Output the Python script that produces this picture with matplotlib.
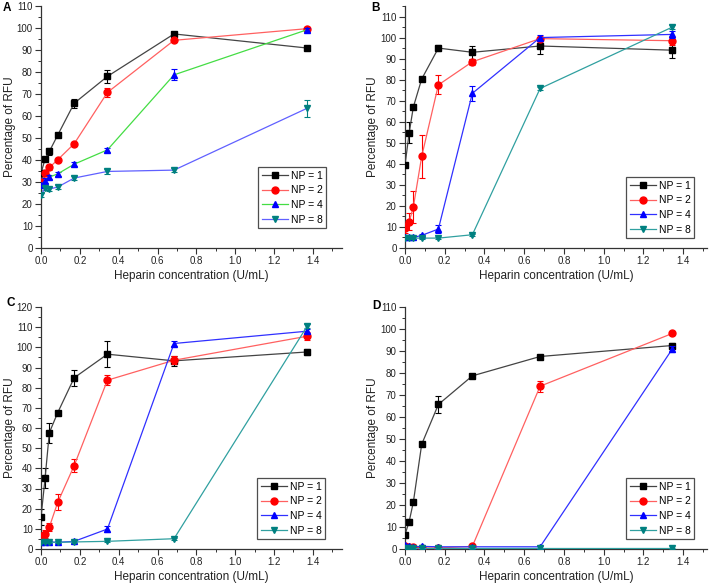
import matplotlib
matplotlib.use("Agg")
import matplotlib.pyplot as plt
from matplotlib.ticker import MultipleLocator

plt.rcParams['font.family'] = ['Liberation Sans', 'DejaVu Sans']

# ---------------- data ----------------
labels = ["NP = 1", "NP = 2", "NP = 4", "NP = 8"]

x_AC = [0, 0.021, 0.043, 0.086, 0.171, 0.342, 0.685, 1.37]
x_BD = [0, 0.021, 0.042, 0.084, 0.168, 0.339, 0.68, 1.346]

# Panel A
A_np1 = [34, 40.4, 43.9, 51.3, 65.8, 78, 97.3, 90.9]
A_np2 = [29.8, 34, 36.6, 40.1, 47.4, 70.7, 94.4, 99.7]
A_np4 = [28.5, 30.6, 32.2, 33.7, 38.1, 44.6, 78.7, 99.2]
A_np8 = [24.2, 27.2, 26.8, 27.7, 31.8, 34.8, 35.4, 63.5]
A_err1 = [1.5, 1, 1.5, 1, 2, 3, 0.8, 0.8]
A_err2 = [1, 1, 1, 1, 1, 2, 0.8, 0.8]
A_err4 = [1, 1, 1, 1, 1, 1, 2.5, 1]
A_err8 = [1, 1, 1, 1, 1, 1, 0.8, 4]

# Panel B
B_np1 = [39.4, 54.7, 67, 80.3, 95, 93, 96, 94]
B_np2 = [9.5, 12.5, 19.5, 43.5, 77.5, 88.5, 99.5, 98.5]
B_np4 = [5, 5, 5, 6, 9, 73.5, 100, 101.5]
B_np8 = [4.7, 4.7, 4.7, 4.7, 4.7, 6.3, 75.8, 105]
B_err1 = [1, 5, 1, 1, 1.5, 3, 4, 3.5]
B_err2 = [2.5, 4, 7.5, 10, 4.5, 1.5, 1, 2]
B_err4 = [0.5, 0.5, 0.5, 0.5, 2, 3.5, 1, 1.5]
B_err8 = [0.5, 0.5, 0.5, 0.5, 0.5, 0.5, 0.5, 1]

# Panel C
C_np1 = [15.7, 35.1, 57.7, 67.6, 84.9, 96.6, 93.3, 97.7]
C_np2 = [6.6, 7.4, 10.9, 23.1, 41.4, 83.7, 93.6, 105.5]
C_np4 = [3.5, 3.5, 3.5, 3.3, 3.8, 9.9, 101.9, 108]
C_np8 = [3.3, 3.3, 3.3, 3.3, 3.5, 3.8, 5.1, 110.4]
C_err1 = [4, 5, 5, 1, 4, 6.5, 2.5, 1.5]
C_err2 = [1, 2, 2, 4, 3, 2.5, 2, 2]
C_err4 = [0.5, 0.5, 0.5, 0.5, 0.5, 1.5, 1, 1]
C_err8 = [0.5, 0.5, 0.5, 0.5, 0.5, 0.5, 0.5, 1]

# Panel D
D_np1 = [6.5, 12.5, 21.3, 47.6, 65.7, 78.7, 87.5, 92.5]
D_np2 = [1.5, 1, 1, 0.5, 0.5, 1.2, 74, 98]
D_np4 = [2, 1.5, 1, 1.2, 1, 1, 1, 91]
D_np8 = [0.3, 0.3, 0.3, 0.3, 0.3, 0.3, 0.3, 0.3]
D_err1 = [1, 1, 1, 1, 4, 1, 0.8, 1]
D_err2 = [0.5, 0.5, 0.5, 0.5, 0.5, 0.5, 2.5, 0.8]
D_err4 = [0.5, 0.5, 0.5, 0.5, 0.5, 0.5, 0.5, 1.5]
D_err8 = [0.2, 0.2, 0.2, 0.2, 0.2, 0.2, 0.2, 0.2]

# ---------------- styles ----------------
markers = ['s', 'o', '^', 'v']
mcolors = ['#000000', '#ff0000', '#0000ff', '#008080']
lines_A = ['#444444', '#ff6060', '#44dd44', '#6060ff']
lines_BCD = ['#444444', '#ff6060', '#3030ff', '#30a0a0']

W, H = 709, 584
fig = plt.figure(figsize=(W / 100, H / 100), dpi=100)

def rect(left, bottom_px, width, height=242):
    return [left / W, (H - bottom_px) / H, width / W, height / H]

panels = [
    ("A", rect(41, 248, 301), x_AC, (A_np1, A_np2, A_np4, A_np8),
     (A_err1, A_err2, A_err4, A_err8), 1.55, 110, lines_A, (258, 167), (7, 8), 31),
    ("B", rect(405, 248, 302), x_BD, (B_np1, B_np2, B_np4, B_np8),
     (B_err1, B_err2, B_err4, B_err8), 1.52, 115, lines_BCD, (626, 177), (376, 8), 32),
    ("C", rect(41, 549, 301), x_AC, (C_np1, C_np2, C_np4, C_np8),
     (C_err1, C_err2, C_err4, C_err8), 1.55, 120, lines_BCD, (257, 478), (11, 303), 31),
    ("D", rect(405, 549, 302), x_BD, (D_np1, D_np2, D_np4, D_np8),
     (D_err1, D_err2, D_err4, D_err8), 1.52, 110, lines_BCD, (626, 478), (376, 306), 32),
]

for letter, r, xs, ys, errs, xmax, ymax, lcols, legpos, letpos, ylab_off in panels:
    ax = fig.add_axes(r)
    handles = []
    for i in range(4):
        ax.errorbar(xs, ys[i], yerr=errs[i], fmt='none', ecolor=mcolors[i],
                    elinewidth=0.8, capsize=2.5, capthick=0.8, zorder=2 + i)
        h, = ax.plot(xs, ys[i], color=lcols[i], lw=0.9, marker=markers[i],
                     markersize=5, markerfacecolor=mcolors[i],
                     markeredgecolor=mcolors[i], label=labels[i], zorder=3 + i)
        handles.append(h)
    ax.set_xlim(0, xmax)
    ax.set_ylim(0, ymax)
    ax.xaxis.set_major_locator(MultipleLocator(0.2))
    ax.xaxis.set_minor_locator(MultipleLocator(0.1))
    ax.yaxis.set_major_locator(MultipleLocator(10))
    ax.yaxis.set_minor_locator(MultipleLocator(5))
    ax.xaxis.set_major_formatter(matplotlib.ticker.FormatStrFormatter('%.1f'))
    for s in ('top', 'right'):
        ax.spines[s].set_visible(False)
    for s in ('left', 'bottom'):
        ax.spines[s].set_linewidth(0.9)
        ax.spines[s].set_color('#333333')
    ax.tick_params(which='major', direction='out', length=4, width=0.8,
                   labelsize=7, colors='#333333', labelcolor='#222222', pad=2)
    ax.tick_params(which='minor', direction='out', length=2, width=0.7,
                   colors='#333333')
    ax.set_xlabel("Heparin concentration (U/mL)", fontsize=8.5,
                  color='#222222', va='center')
    ax.xaxis.set_label_coords(0.5, -28 / 242)
    ax.set_ylabel("Percentage of RFU", fontsize=8.5, color='#222222',
                  va='center')
    ax.yaxis.set_label_coords(-ylab_off / (r[2] * W), 0.5)
    ax.set_facecolor('none')
    leg = ax.legend(handles=handles, loc='upper left',
                    bbox_to_anchor=(legpos[0] / W, 1 - legpos[1] / H),
                    bbox_transform=fig.transFigure, fontsize=7.5,
                    frameon=True, fancybox=False, edgecolor='#222222',
                    handlelength=2.5, handletextpad=0.3, labelspacing=0.45,
                    borderpad=0.35, borderaxespad=0)
    leg.get_frame().set_linewidth(0.9)
    fig.text(letpos[0] / W, 1 - letpos[1] / H, letter, fontsize=8.5,
             fontweight='bold', ha='center', va='center')

fig.savefig("out.png", dpi=100)
